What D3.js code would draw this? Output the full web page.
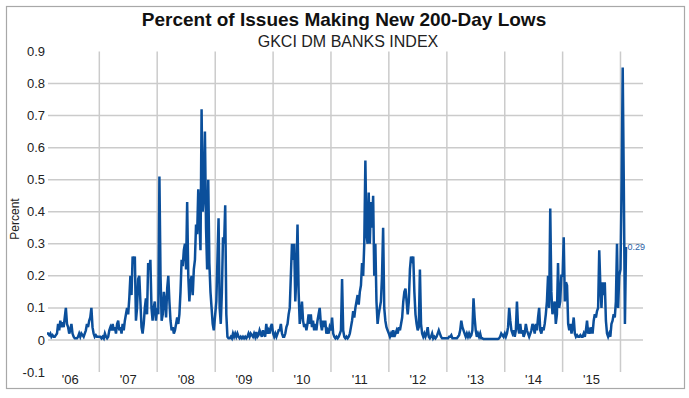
<!DOCTYPE html>
<html>
<head>
    <meta charset="utf-8">
    <style>
        html, body { padding: 0; margin: 0; background: #fff; }
        #chart { width: 689px; height: 398px; }
        text { font-family: "Liberation Sans", Arial, sans-serif; }
    </style>
</head>
<body>
    <div id="chart"></div>
    <script src="https://cdn.jsdelivr.net/npm/d3@7"></script>
    <script>
        // weekly readings (week k of each year = Jan 1 + 7k days); 2006 starts at week 5
        const v2006 = [0.02,0.02,0.015,0.02,0.01,0.015,0.01,0.01,0.015,0.02,0.05,0.03,0.06,0.04,0.055,0.04,0.07,0.1,0.05,0.04,0.02,0.03,0.05,0.02,0.01,0.005,0.005,0.005,0.01,0.02,0.01,0.02,0.015,0.01,0.02,0.03,0.05,0.04,0.06,0.07,0.1,0.04,0.02,0.01,0.015,0.01,0.01];
        const v2007 = [0.01,0.01,0.005,0.01,0.005,0.02,0.01,0.005,0.01,0.03,0.04,0.03,0.05,0.03,0.04,0.02,0.05,0.06,0.03,0.04,0.02,0.05,0.03,0.06,0.08,0.1,0.08,0.13,0.2,0.14,0.26,0.25,0.26,0.06,0.1,0.19,0.2,0.12,0.04,0.02,0.05,0.1,0.13,0.08,0.24,0.22,0.25,0.1,0.06,0.1,0.12,0.06];
        const v2008 = [0.1,0.08,0.51,0.2,0.06,0.08,0.15,0.12,0.07,0.16,0.2,0.12,0.06,0.03,0.04,0.02,0.03,0.05,0.07,0.05,0.08,0.15,0.25,0.23,0.28,0.3,0.22,0.43,0.2,0.12,0.18,0.2,0.14,0.22,0.25,0.36,0.33,0.47,0.38,0.28,0.72,0.4,0.45,0.65,0.35,0.22,0.5,0.24,0.15,0.1,0.05,0.03];
        const v2009 = [0.08,0.12,0.25,0.38,0.1,0.05,0.15,0.32,0.3,0.42,0.08,0.01,0.005,0.005,0.01,0.005,0.02,0.01,0.02,0.01,0.02,0.01,0.005,0.01,0.005,0.01,0.005,0.01,0.005,0.01,0.02,0.01,0.02,0.015,0.01,0.02,0.01,0.025,0.01,0.015,0.03,0.02,0.01,0.03,0.02,0.01,0.05,0.02,0.03,0.02,0.04,0.05];
        const v2010 = [0.02,0.01,0.02,0.01,0.02,0.03,0.03,0.05,0.02,0.01,0.01,0.02,0.04,0.05,0.08,0.1,0.2,0.3,0.25,0.3,0.12,0.2,0.36,0.15,0.05,0.08,0.12,0.06,0.04,0.05,0.03,0.05,0.08,0.05,0.08,0.04,0.06,0.03,0.05,0.03,0.06,0.08,0.1,0.05,0.03,0.06,0.04,0.06,0.02,0.03,0.02,0.04];
        const v2011 = [0.03,0.07,0.02,0.01,0.005,0.01,0.005,0.01,0.02,0.03,0.19,0.03,0.01,0.005,0.01,0.005,0.01,0.02,0.04,0.06,0.09,0.07,0.1,0.12,0.14,0.11,0.15,0.17,0.24,0.2,0.3,0.56,0.33,0.3,0.46,0.3,0.43,0.35,0.45,0.2,0.3,0.12,0.05,0.08,0.1,0.12,0.2,0.35,0.1,0.06,0.04,0.03];
        const v2012 = [0.02,0.01,0.02,0.01,0.03,0.01,0.02,0.03,0.02,0.04,0.03,0.05,0.07,0.12,0.15,0.16,0.12,0.08,0.12,0.22,0.26,0.25,0.26,0.15,0.08,0.05,0.03,0.04,0.22,0.05,0.02,0.01,0.02,0.01,0.02,0.04,0.01,0.005,0.01,0.02,0.005,0.01,0.005,0.01,0.02,0.03,0.02,0.01,0.005,0.005,0.005,0.005];
        const v2013 = [0.005,0.005,0.01,0.01,0.015,0.005,0.005,0.005,0.005,0.005,0.01,0.015,0.03,0.06,0.04,0.03,0.02,0.01,0.02,0.01,0.02,0.01,0.015,0.03,0.13,0.07,0.03,0.01,0.02,0.01,0.02,0.005,0.005,
                       0.003,0.003,0.003,0.003,0.003,0.003,0.003,0.003,0.003,0.003,0.003,0.003,0.003,0.003,0.005,0.01,0.02,0.015,0.01];
        const v2014 = [0.02,0.01,0.02,0.04,0.1,0.06,0.03,0.02,0.03,0.01,0.03,0.12,0.04,0.02,0.05,0.02,0.03,0.01,0.02,0.05,0.03,0.02,0.01,0.02,0.03,0.05,0.04,0.02,0.05,0.03,0.07,0.1,0.03,0.02,0.04,0.03,0.05,0.08,0.12,0.2,0.1,0.41,0.15,0.08,0.1,0.12,0.05,0.08,0.24,0.1,0.12,0.2];
        const v2015 = [0.2,0.32,0.12,0.18,0.17,0.05,0.03,0.05,0.02,0.04,0.07,0.02,0.01,0.015,0.01,0.01,0.015,0.01,0.01,0.02,0.01,0.03,0.06,0.02,0.03,0.02,0.04,0.02,0.06,0.08,0.07,0.09,0.1,0.28,0.17,0.1,0.18,0.14,0.18,0.06,0.02,0.01,0.02,0.01,0.05,0.06,0.08,0.07,0.12,0.3,0.1,0.2];
        const v2016 = [0.22,0.48,0.85,0.48,0.05,0.29];

        const yearSeries = [[2006, 5, v2006], [2007, 0, v2007], [2008, 0, v2008], [2009, 0, v2009],
            [2010, 0, v2010], [2011, 0, v2011], [2012, 0, v2012], [2013, 0, v2013],
            [2014, 0, v2014], [2015, 0, v2015], [2016, 0, v2016]];

        const yTicks = [-0.1, 0, 0.1, 0.2, 0.3, 0.4, 0.5, 0.6, 0.7, 0.8, 0.9];
        const yTickLabels = ['-0.1', '0', '0.1', '0.2', '0.3', '0.4', '0.5', '0.6', '0.7', '0.8', '0.9'];
        const gridValues = [0, 0.1, 0.2, 0.3, 0.4, 0.5, 0.6, 0.7, 0.8];
        const xYears = [2006, 2007, 2008, 2009, 2010, 2011, 2012, 2013, 2014, 2015];
        const xTickLabels = ["'06", "'07", "'08", "'09", "'10", "'11", "'12", "'13", "'14", "'15"];
        const lastLabel = '0.29';

        const data = [];
        yearSeries.forEach(([yr, first, vals]) => {
            vals.forEach((v, i) => data.push({ date: new Date(yr, 0, 1 + 7 * (first + i)), value: v }));
        });

        const width = 689, height = 398;
        const svg = d3.select('#chart').append('svg')
            .attr('width', width)
            .attr('height', height);

        const x = d3.scaleTime()
            .domain([new Date(2006, 1, 5), new Date(2016, 4, 22)])
            .range([47, 643]);
        const y = d3.scaleLinear()
            .domain([-0.1, 0.9])
            .range([372, 51.5]);

        // frame
        svg.append('rect')
            .attr('x', 6.5).attr('y', 6.5)
            .attr('width', 678).attr('height', 382)
            .attr('fill', 'none')
            .attr('stroke', '#a8a8a8')
            .attr('stroke-width', 1.2);

        // grid
        svg.append('g')
            .selectAll('line')
            .data(gridValues)
            .join('line')
            .attr('x1', 48).attr('x2', 643)
            .attr('y1', d => y(d)).attr('y2', d => y(d))
            .attr('stroke', '#cbcbcb')
            .attr('stroke-width', 1.5);

        svg.append('g')
            .selectAll('line')
            .data(xYears.map(yr => new Date(yr + 1, 0, 1)))
            .join('line')
            .attr('x1', d => x(d)).attr('x2', d => x(d))
            .attr('y1', y(0.9)).attr('y2', y(-0.1))
            .attr('stroke', '#cbcbcb')
            .attr('stroke-width', 1.5);

        // y labels
        svg.append('g')
            .selectAll('text')
            .data(yTicks)
            .join('text')
            .attr('x', 45)
            .attr('y', d => y(d))
            .attr('dy', '0.35em')
            .attr('text-anchor', 'end')
            .style('font-size', '13px')
            .style('fill', '#222')
            .text((d, i) => yTickLabels[i]);

        // x labels
        svg.append('g')
            .selectAll('text')
            .data(xYears)
            .join('text')
            .attr('x', d => x(new Date(d, 6, 2)))
            .attr('y', 384)
            .attr('text-anchor', 'middle')
            .style('font-size', '13px')
            .style('fill', '#222')
            .text((d, i) => xTickLabels[i]);

        // series
        const line = d3.line()
            .x(d => x(d.date))
            .y(d => y(d.value));

        svg.append('path')
            .datum(data)
            .attr('d', line)
            .attr('fill', 'none')
            .attr('stroke', '#0b4f9b')
            .attr('stroke-width', 2.5)
            .attr('stroke-linejoin', 'miter');

        const last = data[data.length - 1];
        svg.append('text')
            .attr('x', x(last.date) + 1.5)
            .attr('y', y(last.value))
            .attr('dy', '0.35em')
            .style('font-size', '9px')
            .style('fill', '#2a62a8')
            .text(lastLabel);

        // titles
        svg.append('text')
            .attr('x', 344).attr('y', 26)
            .attr('text-anchor', 'middle')
            .style('font-size', '19px')
            .style('font-weight', 'bold')
            .style('fill', '#111')
            .text('Percent of Issues Making New 200-Day Lows');

        svg.append('text')
            .attr('x', 348).attr('y', 47)
            .attr('text-anchor', 'middle')
            .style('font-size', '16px')
            .style('fill', '#222')
            .text('GKCI DM BANKS INDEX');

        svg.append('text')
            .attr('transform', 'translate(19,219) rotate(-90)')
            .attr('text-anchor', 'middle')
            .style('font-size', '12px')
            .style('fill', '#222')
            .text('Percent');
    </script>
</body>
</html>
